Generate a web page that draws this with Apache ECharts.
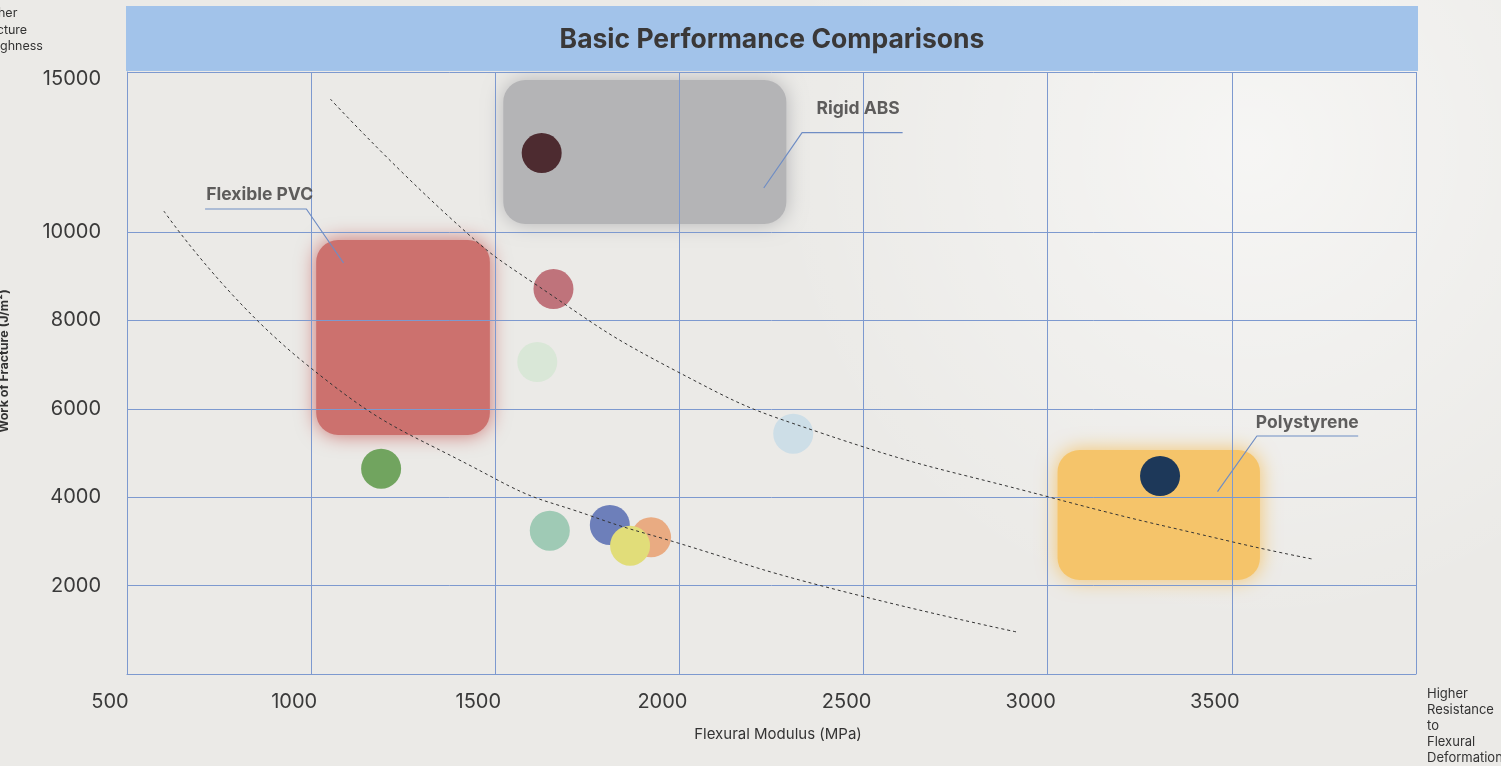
<!DOCTYPE html>
<html>
<head>
<meta charset="utf-8">
<script src="https://cdn.jsdelivr.net/npm/echarts@6/dist/echarts.min.js"></script>
<style>
  html, body { margin: 0; padding: 0; background: #ebeae7; }
  #chart { width: 1501px; height: 766px; }
</style>
</head>
<body>
<div id="chart"></div>
<script>
const chart = echarts.init(document.getElementById("chart"));

// ---- axes ----
const X_MIN = 500, X_MAX = 4000, X_STEP = 500;
const Y_MIN = 0, Y_MAX = 13620, Y_STEP = 2000;
const Y_TOP_LABEL = "15000";

// ---- material dots ----
const dotX = [1626, 1658, 1614, 2309, 1190, 1648, 1811, 1923, 1866, 3305];
const dotY = [11787, 8710, 7059, 5437, 4645, 3242, 3371, 3093, 2903, 4480];
const dotColors = ["#4d2b30", "#bf737b", "#d9e7d7", "#cddee7", "#71a45f",
                   "#9fcab5", "#6d7fba", "#e9ab82", "#e1dd79", "#1d3859"];

// ---- material regions [xMin, yMin, xMax, yMax] ----
const regionNames = ["Rigid ABS", "Flexible PVC", "Polystyrene"];
const regionBoxes = [
  [1500, 10000, 2312, 13620],
  [992, 5226, 1507, 10000],
  [3005, 1946, 3598, 5249]
];
const regionColors = ["#b4b4b6", "#cc716e", "#f5c46a"];

// callout leader lines and label anchors
const calloutLines = [
  [[2606, 12247], [2333, 12247], [2229, 10995]],
  [[712, 10520], [987, 10520], [1088, 9299]],
  [[3843, 5385], [3568, 5385], [3461, 4125]]
];
const calloutLabels = [[2372, 12783], [715, 10837], [3565, 5679]];

// ---- dotted trend curves ----
const upperTrend = [[1052, 13009], [1390, 10226], [1604, 8846], [1996, 6833],
                    [2377, 5475], [3003, 4005], [3503, 2986], [3718, 2602]];
const lowerTrend = [[600, 10475], [979, 7059], [1496, 4434], [1760, 3575],
                    [1996, 2964], [2377, 2014], [2916, 950]];

const GRID_BLUE = "#7d99cf";
const FONT = "Inter, 'Open Sans', sans-serif";

function regionItem(params, api) {
  const p0 = api.coord([api.value(0), api.value(3)]);
  const p1 = api.coord([api.value(2), api.value(1)]);
  const inset = 8;
  const color = regionColors[params.dataIndex];
  return {
    type: "rect",
    shape: {
      x: p0[0] + inset, y: p0[1] + inset,
      width: p1[0] - p0[0] - inset * 2, height: p1[1] - p0[1] - inset * 2,
      r: 22
    },
    style: { fill: color, shadowBlur: 20, shadowColor: color }
  };
}

chart.setOption({
  backgroundColor: "#ebeae7",
  animation: false,
  grid: { left: 127, right: 85, top: 72, bottom: 92 },
  xAxis: {
    type: "value",
    min: X_MIN, max: X_MAX, interval: X_STEP,
    axisLine: { show: true, lineStyle: { color: GRID_BLUE, width: 1 } },
    axisTick: { show: false },
    splitLine: { show: true, lineStyle: { color: GRID_BLUE, width: 1 } },
    axisLabel: {
      margin: 18, fontSize: 20, color: "#3a3a3a", fontFamily: FONT,
      padding: [0, 34, 0, 0],
      showMaxLabel: false,
      formatter: v => (v >= X_MAX ? "" : String(v))
    }
  },
  yAxis: {
    type: "value",
    min: Y_MIN, max: Y_MAX, interval: Y_STEP,
    axisLine: { show: true, lineStyle: { color: GRID_BLUE, width: 1 } },
    axisTick: { show: false },
    splitLine: {
      show: true,
      lineStyle: {
        color: [GRID_BLUE, GRID_BLUE, GRID_BLUE, GRID_BLUE, GRID_BLUE, GRID_BLUE,
                "rgba(0,0,0,0)", GRID_BLUE],
        width: 1
      }
    },
    axisLabel: {
      margin: 26, fontSize: 20, color: "#3a3a3a", fontFamily: FONT,
      showMaxLabel: true,
      formatter: v => {
        if (v === Y_MAX) return "{top|" + Y_TOP_LABEL + "}";
        if (v === 0 || v > 10000) return "";
        return String(v);
      },
      rich: { top: { fontSize: 20, color: "#3a3a3a", fontFamily: FONT, padding: [14, 0, 0, 0] } }
    }
  },
  graphic: [
    {
      type: "circle", z: -10, silent: true,
      shape: { cx: 1250, cy: 150, r: 480 },
      style: {
        fill: new echarts.graphic.RadialGradient(0.5, 0.5, 0.5, [
          { offset: 0, color: "rgba(255,255,255,0.55)" },
          { offset: 1, color: "rgba(255,255,255,0)" }
        ])
      }
    },
    {
      type: "rect", z: 20, silent: true,
      shape: { x: 126, y: 6, width: 1292, height: 65 },
      style: { fill: "#a2c3ea" }
    },
    {
      type: "text", z: 21, silent: true,
      x: 772, y: 40,
      style: {
        text: "Basic Performance Comparisons",
        align: "center", verticalAlign: "middle",
        fontSize: 26.5, fontWeight: "bold", fill: "#3a3838", fontFamily: FONT
      }
    },
    {
      type: "text", z: 21, silent: true,
      x: -22, y: 5,
      style: {
        text: "Higher\nFracture\nToughness",
        fontSize: 12.5, lineHeight: 16.5, fill: "#333", fontFamily: FONT
      }
    },
    {
      type: "text", z: 21, silent: true, rotation: Math.PI / 2,
      x: 4, y: 361,
      style: {
        text: "Work of Fracture (J/m\u00b2)", align: "center", verticalAlign: "middle",
        fontSize: 12.5, fontWeight: "bold", fill: "#333", fontFamily: FONT
      }
    },
    {
      type: "text", z: 21, silent: true,
      x: 778, y: 734,
      style: {
        text: "Flexural Modulus (MPa)", align: "center", verticalAlign: "middle",
        fontSize: 15, fill: "#333", fontFamily: FONT
      }
    },
    {
      type: "text", z: 21, silent: true,
      x: 1427, y: 686,
      style: {
        text: "Higher\nResistance\nto\nFlexural\nDeformation",
        fontSize: 13, lineHeight: 16, fill: "#333", fontFamily: FONT
      }
    }
  ],
  series: [
    {
      type: "custom",
      z: -1,
      renderItem: regionItem,
      data: regionBoxes,
      silent: true
    },
    {
      type: "scatter",
      z: 3,
      symbolSize: 40,
      data: dotX.map((x, i) => ({
        value: [x, dotY[i]],
        itemStyle: { color: dotColors[i], opacity: 1 }
      }))
    },
    ...[upperTrend, lowerTrend].map(pts => ({
      type: "line",
      z: 4,
      smooth: true,
      showSymbol: false,
      silent: true,
      data: pts,
      lineStyle: { color: "#333", width: 1, type: [3, 3] }
    })),
    ...calloutLines.map(pts => ({
      type: "line",
      z: 4,
      showSymbol: false,
      silent: true,
      data: pts,
      lineStyle: { color: "#6f8dc4", width: 1.2 }
    })),
    {
      type: "scatter",
      z: 5,
      symbolSize: 0,
      silent: true,
      data: calloutLabels.map((p, i) => ({ value: p, name: regionNames[i] })),
      label: {
        show: true, position: "right", distance: 0,
        formatter: p => p.name,
        fontSize: 17.5, fontWeight: "bold", color: "#3a3838", fontFamily: FONT
      }
    }
  ]
});
</script>
</body>
</html>
